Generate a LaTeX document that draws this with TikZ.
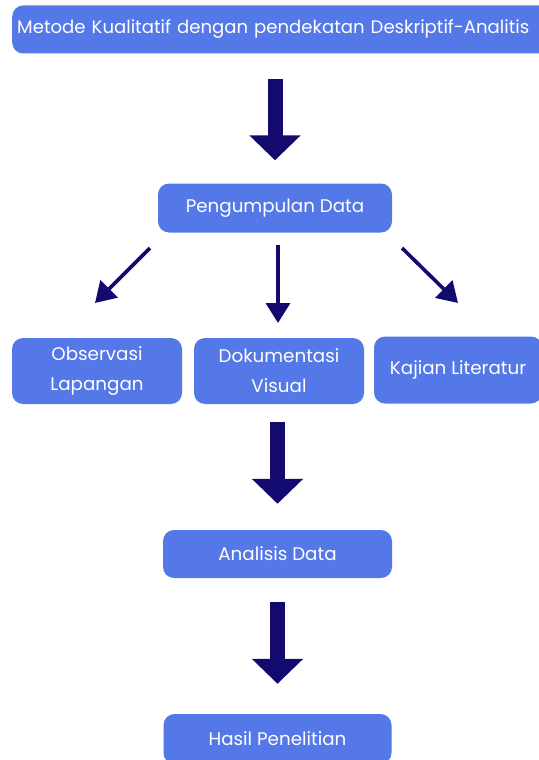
\documentclass[tikz,border=0pt]{standalone}
\usepackage{fontspec}
\setmainfont{Poppins}
\usetikzlibrary{arrows.meta}
\definecolor{boxblue}{HTML}{5478E8}
\definecolor{navy}{HTML}{130A70}
\begin{document}
\begin{tikzpicture}[x=1pt,y=-1pt,
  box/.style={rectangle, rounded corners=11pt, fill=boxblue, text=white,
    font=\fontsize{18.3}{30}\selectfont, align=center, inner sep=0pt},
  bigarrow/.style={draw=navy, line width=15pt,
    -{Triangle[length=25pt,width=50pt]}},
  thinarrow/.style={draw=navy, line width=3.6pt,
    -{Triangle[length=20pt,width=24pt]}}]
\useasboundingbox (0,0) rectangle (538,760);
\node[box, anchor=west, minimum width=553pt, minimum height=48pt,
  text width=543pt, align=left, inner xsep=4pt,
  font=\fontsize{18.1}{30}\selectfont] (metode) at (12,29.5)
  {Metode Kualitatif dengan pendekatan Deskriptif-Analitis};
\node[box, minimum width=234pt, minimum height=49pt] (pengumpulan) at (275,208) {Pengumpulan Data};
\node[box, minimum width=170pt, minimum height=66pt] (obs) at (97,371) {Observasi\\Lapangan};
\node[box, minimum width=170pt, minimum height=66pt] (dok) at (279,371) {Dokumentasi\\Visual};
\node[box, minimum width=168pt, minimum height=67pt] (kajian) at (458,370) {Kajian Literatur};
\node[box, minimum width=229pt, minimum height=48pt] (analisis) at (277.5,554) {Analisis Data};
\node[box, minimum width=228pt, minimum height=50pt] (hasil) at (277.5,739) {Hasil Penelitian};
% thick arrows
\draw[bigarrow, shorten <=25pt, shorten >=23pt] (metode.south -| pengumpulan.north) -- (pengumpulan.north);
\draw[bigarrow, shorten <=18pt, shorten >=26pt] (dok.south -| analisis.north) -- (analisis.north);
\draw[bigarrow, shorten <=24pt, shorten >=30pt] (analisis.south) -- (hasil.north);
% thin arrows
\coordinate (l1) at (150,248);
\coordinate (l2) at (95,303);
\coordinate (m1) at (278,245);
\coordinate (m2) at (278,323);
\coordinate (r1) at (402,248);
\coordinate (r2) at (458,303);
\draw[thinarrow] (l1) -- (l2);
\draw[thinarrow] (m1) -- (m2);
\draw[thinarrow] (r1) -- (r2);
\end{tikzpicture}
\end{document}
